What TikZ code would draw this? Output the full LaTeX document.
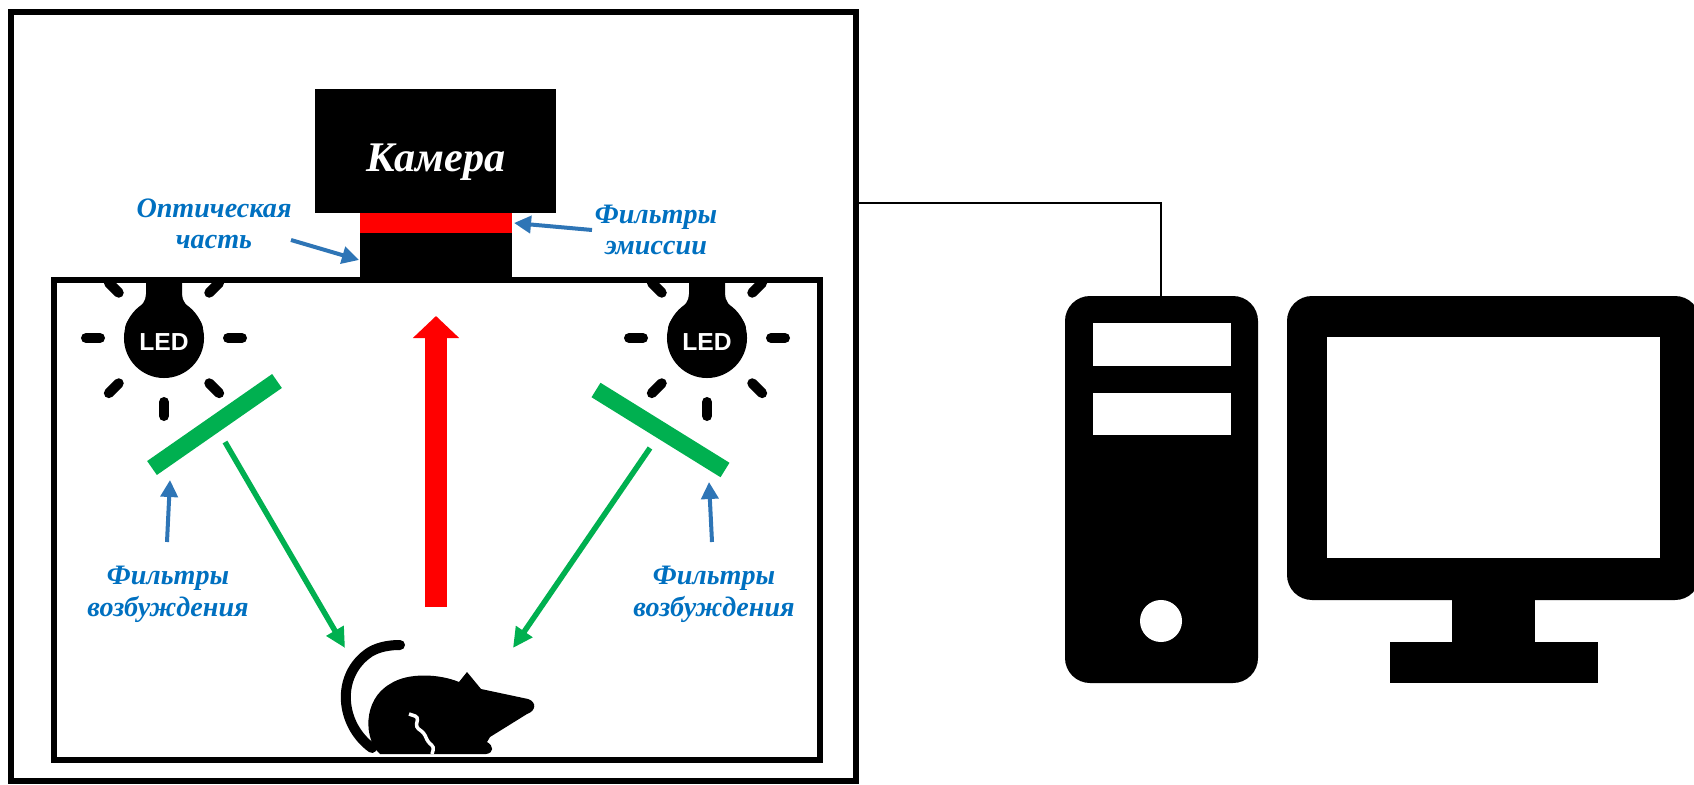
\documentclass[tikz,border=0pt]{standalone}
\usepackage{fontspec}
\setmainfont{Liberation Serif}
\newfontfamily\ledfont{Liberation Sans}
\usepackage{tikz}
\usetikzlibrary{positioning, calc, arrows.meta}
\definecolor{labelblue}{RGB}{0,112,192}
\definecolor{arrowblue}{RGB}{46,117,182}
\definecolor{filtergreen}{RGB}{0,176,80}
\tikzstyle{Pointer} = [
%thin blue arrow from a label to its part:
arrowblue, line width=0.04cm,
-{Triangle[length=0.17cm, width=0.17cm]}
]

\begin{document}
\begin{tikzpicture}[x=0.01cm, y=-0.01cm,
			wall/.style = {draw, line width=0.06cm},
			bluelabel/.style = {text=labelblue, align=center, inner sep=0pt, font=\fontsize{8}{9}\selectfont\bfseries\itshape},
			camlabel/.style = {text=white, inner sep=0pt, font=\fontsize{12}{14}\selectfont\bfseries\itshape},
			ledlabel/.style = {text=white, inner sep=0pt, font=\fontsize{7}{8}\ledfont\bfseries},
			ray/.style = {line width=0.1cm, line cap=round},
			filterbar/.style = {filtergreen, line width=0.17cm},
			excitation/.style = {filtergreen, line width=0.055cm, -{Triangle[length=0.2cm, width=0.19cm]}},
			emission/.style = {red, line width=0.22cm, -{Triangle[length=0.22cm, width=0.45cm]}},
			wire/.style = {line width=0.028cm},
		]
		\useasboundingbox (0,0) rectangle (1694,785);

		% chamber
		\draw[wall] (11,12) rectangle (856,781);
		\draw[wall] (54,280) rectangle (820,760);

		% camera with emission filter and lens
		\fill (315,89) rectangle (556,213);
		\fill[red] (360,213) rectangle (512,234);
		\fill (360,233) rectangle (512,281);
		\node[camlabel] (CAM) at (436,162) {Камера};

		% LED lamps
		\coordinate (LEDL) at (164,338);
		\coordinate (LEDR) at (707,338);
		\foreach \lamp in {LEDL, LEDR} {
			\fill[shift={(\lamp)}] (-18,-60) -- (-18,-44) .. controls (-18,-30) and (-36,-26) .. (-39,-10)
				-- (39,-10) .. controls (36,-26) and (18,-30) .. (18,-44) -- (18,-60) -- cycle;
			\fill (\lamp) circle[radius=0.4cm];
			\foreach \a in {0,45,90,135,180,225,315}
				\draw[ray, shift={(\lamp)}] (\a:64) -- (\a:78);
		}
		\node[ledlabel] (LL) at (164,342) {LED};
		\node[ledlabel] (LR) at (707,342) {LED};

		% excitation filters
		\draw[filterbar] (152,468) -- (277,381);
		\draw[filterbar] (596,390) -- (725,470);

		% mouse
		\draw[line width=0.1cm, line cap=round] (372,748) .. controls (340,725) and (335,675) .. (370,652)
			.. controls (380,646) and (392,645) .. (400,645);
		\fill (380,754) .. controls (364,740) and (362,700) .. (390,684)
			.. controls (408,672) and (440,674) .. (459,682) -- (467,672) -- (481,689)
			-- (528,699) .. controls (537,702) and (536,711) .. (527,714)
			-- (490,737) -- (487,742) .. controls (494,746) and (494,753) .. (486,754) -- cycle;
		\draw[white, line width=0.035cm, rounded corners=0.03cm] (409,714) -- (418,717) -- (416,727)
			-- (424,733) -- (428,742) -- (434,747) -- (432,754);

		% light paths
		\coordinate (FL) at (225,442);
		\coordinate (FR) at (650,448);
		\coordinate (ML) at (345,648);
		\coordinate (MR) at (513,648);
		\coordinate (MT) at (436,607);
		\coordinate (LT) at (436,316);
		\draw[excitation] (FL) -- (ML);
		\draw[excitation] (FR) -- (MR);
		\draw[emission] (MT) -- (LT);

		% labels
		\node[bluelabel] (OPT) at (214,224) {Оптическая\\часть};
		\node[bluelabel] (EMI) at (656,230) {Фильтры\\эмиссии};
		\node[bluelabel] (EXL) at (168,594) {Фильтры\\возбуждения};
		\node[bluelabel] (EXR) at (714,594) {Фильтры\\возбуждения};

		\coordinate (OPTa) at (291,240);
		\coordinate (OPTb) at (359,260);
		\coordinate (EMIa) at (592,230);
		\coordinate (EMIb) at (514,223);
		\coordinate (EXLa) at (167,542);
		\coordinate (EXLb) at (170,480);
		\coordinate (EXRa) at (712,542);
		\coordinate (EXRb) at (709,482);
		\draw[Pointer] (OPTa) -- (OPTb);
		\draw[Pointer] (EMIa) -- (EMIb);
		\draw[Pointer] (EXLa) -- (EXLb);
		\draw[Pointer] (EXRa) -- (EXRb);

		% computer
		\fill[rounded corners=0.25cm] (1065,296) rectangle (1258,683);
		\fill[white] (1093,323) rectangle (1231,366);
		\fill[white] (1093,393) rectangle (1231,435);
		\fill[white] (1161,621) circle[radius=0.21cm];
		\fill[rounded corners=0.25cm] (1287,296) rectangle (1700,600);
		\fill[white] (1327,337) rectangle (1660,558);
		\fill (1452,598) rectangle (1535,643);
		\fill (1390,642) rectangle (1598,683);

		% cable to the computer
		\coordinate (PORT) at (856,203);
		\coordinate (PC) at (1161,296);
		\draw[wire] (PORT) -| (PC);
	\end{tikzpicture}
\end{document}
